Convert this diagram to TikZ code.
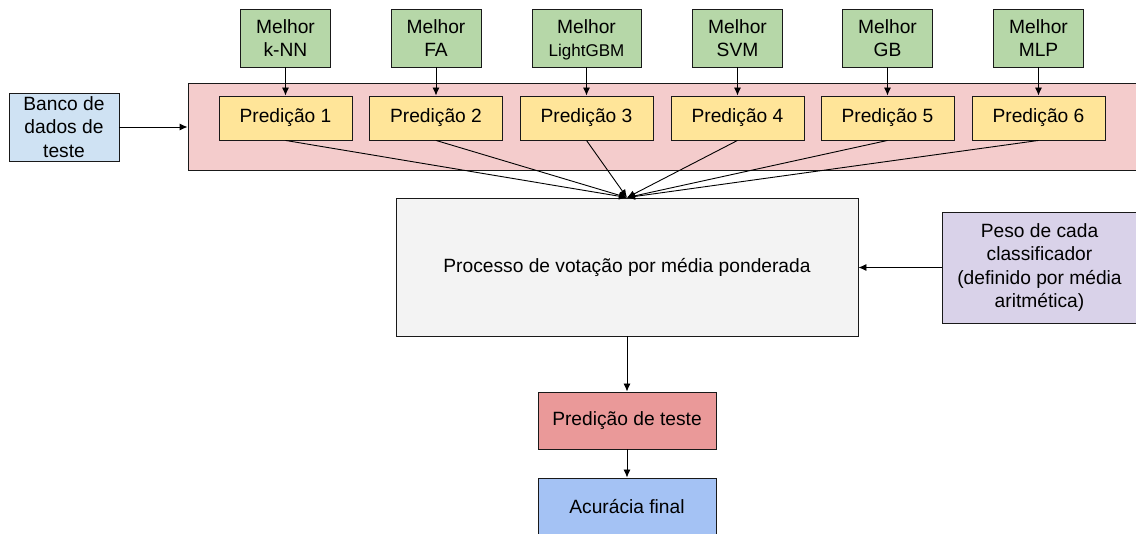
\documentclass[tikz,border=0pt]{standalone}
\usepackage{fontspec}
\setmainfont{Liberation Sans}
\usetikzlibrary{arrows.meta}

\definecolor{vert}{HTML}{B6D7A8}
\definecolor{rose}{HTML}{F4CCCC}
\definecolor{jaune}{HTML}{FFE599}
\definecolor{bleuclair}{HTML}{CFE2F3}
\definecolor{gris}{HTML}{F3F3F3}
\definecolor{lilas}{HTML}{D9D2E9}
\definecolor{rouge}{HTML}{EA9999}
\definecolor{bleu}{HTML}{A4C2F4}

\begin{document}
\begin{tikzpicture}[x=1pt, y=-1pt, font=\fontsize{19.2}{23.5}\selectfont,
    boite/.style={draw=black!90, line width=0.9pt, align=center, inner sep=0pt},
    fleche/.style={-{Latex[length=8pt,width=7pt]}, line width=0.9pt}]
  \useasboundingbox (0, 0) rectangle (1136, 534);

  % meilleurs modèles
  \node[boite, fill=vert, minimum width=90pt, minimum height=58pt] (mknn) at (285.5, 38) {Melhor\\k-NN};
  \node[boite, fill=vert, minimum width=90pt, minimum height=58pt] (mfa) at (436, 38) {Melhor\\FA};
  \node[boite, fill=vert, minimum width=109pt, minimum height=58pt, text depth=0pt] (mlgbm) at (586.5, 38) {Melhor\\{\fontsize{17}{20}\selectfont LightGBM}};
  \node[boite, fill=vert, minimum width=90pt, minimum height=58pt] (msvm) at (737.5, 38) {Melhor\\SVM};
  \node[boite, fill=vert, minimum width=90pt, minimum height=58pt] (mgb) at (887.5, 38) {Melhor\\GB};
  \node[boite, fill=vert, minimum width=90pt, minimum height=58pt] (mmlp) at (1038.5, 38) {Melhor\\MLP};

  % prédictions
  \node[boite, fill=rose, minimum width=952pt, minimum height=87pt] (preds) at (664, 126.5) {};
  \node[boite, fill=jaune, minimum width=133pt, minimum height=44pt] (p1) at (285.5, 118) {Predição 1};
  \node[boite, fill=jaune, minimum width=133pt, minimum height=44pt] (p2) at (436, 118) {Predição 2};
  \node[boite, fill=jaune, minimum width=133pt, minimum height=44pt] (p3) at (586.5, 118) {Predição 3};
  \node[boite, fill=jaune, minimum width=133pt, minimum height=44pt] (p4) at (737.5, 118) {Predição 4};
  \node[boite, fill=jaune, minimum width=133pt, minimum height=44pt] (p5) at (887.5, 118) {Predição 5};
  \node[boite, fill=jaune, minimum width=133pt, minimum height=44pt] (p6) at (1038.5, 118) {Predição 6};

  % entrées et vote
  \node[boite, fill=bleuclair, minimum width=110pt, minimum height=68pt] (banco) at (64, 127) {Banco de\\dados de\\teste};
  \node[boite, fill=gris, minimum width=462pt, minimum height=138pt] (vote) at (627, 267) {Processo de votação por média ponderada};
  \node[boite, fill=lilas, minimum width=195pt, minimum height=111pt] (peso) at (1039.5, 267.5) {Peso de cada\\classificador\\(definido por média\\aritmética)};

  % sorties
  \node[boite, fill=rouge, minimum width=178pt, minimum height=57pt] (teste) at (627, 420.5) {Predição de teste};
  \node[boite, fill=bleu, minimum width=178pt, minimum height=57pt] (acc) at (627, 506.5) {Acurácia final};

  % flèches
  \draw[fleche] (mknn) -- (p1);
  \draw[fleche] (mfa) -- (p2);
  \draw[fleche] (mlgbm) -- (p3);
  \draw[fleche] (msvm) -- (p4);
  \draw[fleche] (mgb) -- (p5);
  \draw[fleche] (mmlp) -- (p6);
  \draw[fleche] (banco) -- (preds.west |- banco.east);
  \draw[fleche] (p1.south) -- (vote.north);
  \draw[fleche] (p2.south) -- (vote.north);
  \draw[fleche] (p3.south) -- (vote.north);
  \draw[fleche] (p4.south) -- (vote.north);
  \draw[fleche] (p5.south) -- (vote.north);
  \draw[fleche] (p6.south) -- (vote.north);
  \draw[fleche] (peso) -- (vote.east |- peso.west);
  \draw[fleche] (vote) -- (teste);
  \draw[fleche] (teste) -- (acc);
\end{tikzpicture}
\end{document}
